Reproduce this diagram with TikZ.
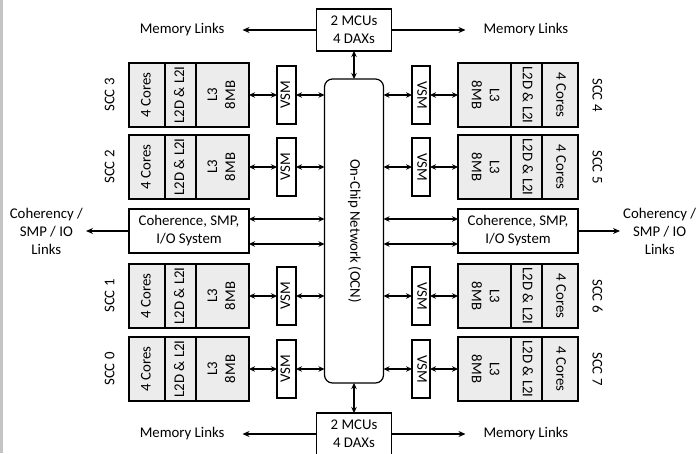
\documentclass[tikz,border=0pt]{standalone}
\usepackage{fontspec}
\setmainfont{Carlito}
\usetikzlibrary{positioning,arrows.meta}
\definecolor{cellgray}{RGB}{236,236,236}
\definecolor{edgegray}{RGB}{196,196,196}
\newcommand{\diagfont}{\fontsize{14.8}{18}\selectfont}
\newcommand{\rotl}[1]{\rotatebox{90}{\begin{tabular}{@{}c@{}}#1\end{tabular}}}
\newcommand{\rotr}[1]{\rotatebox{-90}{\begin{tabular}{@{}c@{}}#1\end{tabular}}}

\begin{document}
\begin{tikzpicture}[x=1pt, y=-1pt,
  cell/.style={draw, fill=cellgray, line width=1.2pt, inner sep=0pt, outer sep=0pt,
               minimum height=64pt, font=\diagfont},
  vsm/.style={draw, fill=white, line width=1.2pt, inner sep=0pt, outer sep=0pt,
              minimum width=19pt, minimum height=58pt, font=\diagfont},
  box/.style={draw, fill=white, line width=1.2pt, inner sep=0pt, outer sep=0pt,
              align=center, font=\diagfont},
  scc/.style={inner sep=0pt, font=\diagfont},
  lbl/.style={inner sep=2pt, outer xsep=16pt, font=\diagfont},
  link/.style={inner sep=3pt, align=center, font=\diagfont},
  arr/.style={{Stealth[length=6pt,width=5.5pt]}-{Stealth[length=6pt,width=5.5pt]}, line width=1.2pt},
  arr1/.style={-{Stealth[length=7pt,width=6pt]}, line width=1.2pt}]

\useasboundingbox (0,0) rectangle (696,453);
\fill[edgegray] (0,0) rectangle (2.5,453);

% on-chip network and memory controllers
\node[box, minimum width=59pt, minimum height=304pt, rounded corners=8pt] (ocn) at (354,231) {\rotr{On-Chip Network (OCN)}};
\node[box, minimum width=75pt, minimum height=42pt] (mcut) at (354,30) {2 MCUs\\4 DAXs};
\node[box, minimum width=75pt, minimum height=42pt] (mcub) at (354,434) {2 MCUs\\4 DAXs};

\node[lbl, left=74pt of mcut] (memtl) {Memory Links};
\node[lbl, right=74pt of mcut] (memtr) {Memory Links};
\node[lbl, left=74pt of mcub] (membl) {Memory Links};
\node[lbl, right=74pt of mcub] (membr) {Memory Links};

% left SCCs
\node[cell, minimum width=36pt] (c3) at (147,95) {\rotl{4 Cores}};
\node[cell, minimum width=31pt, right=0pt of c3] (m3) {\rotl{L2D \& L2I}};
\node[cell, minimum width=53pt, right=0pt of m3] (l3) {\rotl{L3\\8MB}};
\node[vsm, right=28pt of l3] (v3) {\rotl{VSM}};
\node[scc, left=9pt of c3] (s3) {\rotl{SCC 3}};

\node[cell, minimum width=36pt] (c2) at (147,167) {\rotl{4 Cores}};
\node[cell, minimum width=31pt, right=0pt of c2] (m2) {\rotl{L2D \& L2I}};
\node[cell, minimum width=53pt, right=0pt of m2] (l2) {\rotl{L3\\8MB}};
\node[vsm, right=28pt of l2] (v2) {\rotl{VSM}};
\node[scc, left=9pt of c2] (s2) {\rotl{SCC 2}};

\node[cell, minimum width=36pt] (c1) at (147,296) {\rotl{4 Cores}};
\node[cell, minimum width=31pt, right=0pt of c1] (m1) {\rotl{L2D \& L2I}};
\node[cell, minimum width=53pt, right=0pt of m1] (l1) {\rotl{L3\\8MB}};
\node[vsm, right=28pt of l1] (v1) {\rotl{VSM}};
\node[scc, left=9pt of c1] (s1) {\rotl{SCC 1}};

\node[cell, minimum width=36pt] (c0) at (147,369) {\rotl{4 Cores}};
\node[cell, minimum width=31pt, right=0pt of c0] (m0) {\rotl{L2D \& L2I}};
\node[cell, minimum width=53pt, right=0pt of m0] (l0) {\rotl{L3\\8MB}};
\node[vsm, right=28pt of l0] (v0) {\rotl{VSM}};
\node[scc, left=9pt of c0] (s0) {\rotl{SCC 0}};

% right SCCs
\node[vsm, minimum width=18pt] (v4) at (421,95) {\rotr{VSM}};
\node[cell, minimum width=53pt, right=28pt of v4] (l4) {\rotr{L3\\8MB}};
\node[cell, minimum width=31pt, right=0pt of l4] (m4) {\rotr{L2D \& L2I}};
\node[cell, minimum width=36pt, right=0pt of m4] (c4) {\rotr{4 Cores}};
\node[scc, right=9pt of c4] (s4) {\rotr{SCC 4}};

\node[vsm, minimum width=18pt] (v5) at (421,167) {\rotr{VSM}};
\node[cell, minimum width=53pt, right=28pt of v5] (l5) {\rotr{L3\\8MB}};
\node[cell, minimum width=31pt, right=0pt of l5] (m5) {\rotr{L2D \& L2I}};
\node[cell, minimum width=36pt, right=0pt of m5] (c5) {\rotr{4 Cores}};
\node[scc, right=9pt of c5] (s5) {\rotr{SCC 5}};

\node[vsm, minimum width=18pt] (v6) at (421,296) {\rotr{VSM}};
\node[cell, minimum width=53pt, right=28pt of v6] (l6) {\rotr{L3\\8MB}};
\node[cell, minimum width=31pt, right=0pt of l6] (m6) {\rotr{L2D \& L2I}};
\node[cell, minimum width=36pt, right=0pt of m6] (c6) {\rotr{4 Cores}};
\node[scc, right=9pt of c6] (s6) {\rotr{SCC 6}};

\node[vsm, minimum width=18pt] (v7) at (421,369) {\rotr{VSM}};
\node[cell, minimum width=53pt, right=28pt of v7] (l7) {\rotr{L3\\8MB}};
\node[cell, minimum width=31pt, right=0pt of l7] (m7) {\rotr{L2D \& L2I}};
\node[cell, minimum width=36pt, right=0pt of m7] (c7) {\rotr{4 Cores}};
\node[scc, right=9pt of c7] (s7) {\rotr{SCC 7}};

% coherence blocks
\node[box, minimum width=120pt, minimum height=44pt] (cohl) at (189,231) {Coherence, SMP,\\I/O System};
\node[box, minimum width=120pt, minimum height=44pt] (cohr) at (518,231) {Coherence, SMP,\\I/O System};
\node[link, left=43pt of cohl] (lnkl) {Coherency /\\SMP / IO\\Links};
\node[link, right=42pt of cohr] (lnkr) {Coherency /\\SMP / IO\\Links};

% connectors
\draw[arr1] (mcut) -- (memtl);
\draw[arr1] (mcut) -- (memtr);
\draw[arr1] (mcub) -- (membl);
\draw[arr1] (mcub) -- (membr);
\draw[arr] (mcut) -- (ocn);
\draw[arr] (ocn) -- (mcub);

\draw[arr] (l3) -- (v3);
\draw[arr] (v3) -- (v3 -| ocn.west);
\draw[arr] (l2) -- (v2);
\draw[arr] (v2) -- (v2 -| ocn.west);
\draw[arr] (l1) -- (v1);
\draw[arr] (v1) -- (v1 -| ocn.west);
\draw[arr] (l0) -- (v0);
\draw[arr] (v0) -- (v0 -| ocn.west);

\draw[arr] (ocn.east |- v4) -- (v4);
\draw[arr] (v4) -- (l4);
\draw[arr] (ocn.east |- v5) -- (v5);
\draw[arr] (v5) -- (l5);
\draw[arr] (ocn.east |- v6) -- (v6);
\draw[arr] (v6) -- (l6);
\draw[arr] (ocn.east |- v7) -- (v7);
\draw[arr] (v7) -- (l7);

\draw[arr] ([yshift=12pt]cohl.east) -- ([yshift=12pt]cohl.east -| ocn.west);
\draw[arr] ([yshift=-13pt]cohl.east) -- ([yshift=-13pt]cohl.east -| ocn.west);
\draw[arr] ([yshift=12pt]cohr.west -| ocn.east) -- ([yshift=12pt]cohr.west);
\draw[arr] ([yshift=-13pt]cohr.west -| ocn.east) -- ([yshift=-13pt]cohr.west);
\draw[arr1] (cohl) -- (lnkl);
\draw[arr1] (cohr) -- (lnkr);
\end{tikzpicture}
\end{document}
